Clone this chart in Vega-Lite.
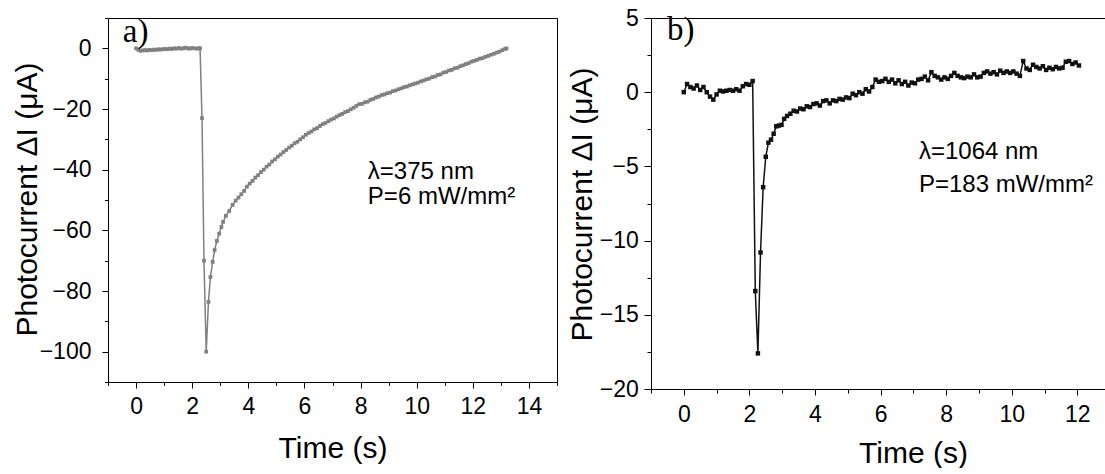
{
  "$schema": "https://vega.github.io/schema/vega-lite/v6.json",
  "background": "white",
  "padding": {"left": 11, "top": 6, "right": 0, "bottom": 0},
  "spacing": 94,
  "bounds": "flush",
  "config": {
    "view": {"stroke": "black", "strokeWidth": 1},
    "font": "Liberation Sans",
    "axis": {"grid": false, "tickColor": "black", "labelColor": "black", "titleColor": "black", "labelFont": "Liberation Sans", "titleFont": "Liberation Sans", "titleFontWeight": "normal", "labelOverlap": false, "labelFlush": false, "tickWidth": 1, "domainColor": "black"}
  },
  "datasets": {
    "a": [
      {"t":0,"v":0},{"t":0.08,"v":-0.5},{"t":0.16,"v":-0.8},{"t":0.24,"v":-0.7},{"t":0.32,"v":-0.6},{"t":0.40,"v":-0.7},{"t":0.48,"v":-0.5},{"t":0.56,"v":-0.6},{"t":0.64,"v":-0.4},{"t":0.72,"v":-0.5},{"t":0.80,"v":-0.3},{"t":0.88,"v":-0.4},{"t":0.96,"v":-0.3},{"t":1.04,"v":-0.2},{"t":1.12,"v":-0.3},{"t":1.20,"v":-0.1},{"t":1.28,"v":-0.2},{"t":1.36,"v":0.0},{"t":1.44,"v":-0.1},{"t":1.52,"v":0.1},{"t":1.60,"v":-0.1},{"t":1.68,"v":0.0},{"t":1.76,"v":0.2},{"t":1.84,"v":0.0},{"t":1.92,"v":-0.1},{"t":2.00,"v":0.1},{"t":2.08,"v":0.0},{"t":2.16,"v":-0.1},{"t":2.24,"v":0.0},{"t":2.28,"v":0.0},
      {"t":2.35,"v":-23},{"t":2.42,"v":-70},{"t":2.50,"v":-100},{"t":2.58,"v":-83.6},{"t":2.65,"v":-75.4},{"t":2.73,"v":-70.4},{"t":2.80,"v":-66.5},{"t":2.88,"v":-63.5},{"t":2.96,"v":-61.1},{"t":3.04,"v":-58.9},{"t":3.10,"v":-57.2},{"t":3.20,"v":-55.2},{"t":3.32,"v":-53.6},{"t":3.44,"v":-51.6},
      {"t":3.55,"v":-50.2},{"t":3.65,"v":-49.2},{"t":3.75,"v":-48.1},{"t":3.85,"v":-47.0},{"t":3.95,"v":-45.6},{"t":4.05,"v":-44.6},{"t":4.15,"v":-43.7},{"t":4.25,"v":-42.6},{"t":4.35,"v":-41.8},{"t":4.45,"v":-40.8},{"t":4.55,"v":-40.0},{"t":4.65,"v":-39.0},{"t":4.75,"v":-38.3},{"t":4.85,"v":-37.3},{"t":4.95,"v":-36.6},{"t":5.05,"v":-35.7},{"t":5.15,"v":-35.0},{"t":5.25,"v":-34.2},{"t":5.35,"v":-33.5},{"t":5.45,"v":-32.7},{"t":5.55,"v":-32.1},{"t":5.65,"v":-31.3},{"t":5.75,"v":-30.8},{"t":5.85,"v":-30.0},{"t":5.95,"v":-29.3},{"t":6.05,"v":-28.5},{"t":6.15,"v":-27.9},{"t":6.25,"v":-27.4},{"t":6.35,"v":-26.7},{"t":6.45,"v":-26.3},{"t":6.55,"v":-25.6},{"t":6.65,"v":-25.0},{"t":6.75,"v":-24.6},{"t":6.85,"v":-24.0},{"t":6.95,"v":-23.5},{"t":7.05,"v":-23.1},{"t":7.15,"v":-22.5},{"t":7.25,"v":-22.0},{"t":7.35,"v":-21.6},{"t":7.45,"v":-21.0},{"t":7.55,"v":-20.7},{"t":7.65,"v":-20.1},{"t":7.75,"v":-19.6},{"t":7.85,"v":-19.0},{"t":7.95,"v":-18.4},{"t":8.05,"v":-18.3},{"t":8.15,"v":-17.8},{"t":8.25,"v":-17.6},{"t":8.35,"v":-17.0},{"t":8.45,"v":-16.7},{"t":8.55,"v":-16.2},{"t":8.65,"v":-15.9},{"t":8.75,"v":-15.4},{"t":8.85,"v":-15.2},{"t":8.95,"v":-14.8},{"t":9.05,"v":-14.6},{"t":9.15,"v":-14.1},{"t":9.25,"v":-13.9},{"t":9.35,"v":-13.5},{"t":9.45,"v":-13.2},{"t":9.55,"v":-12.8},{"t":9.65,"v":-12.6},{"t":9.75,"v":-12.2},{"t":9.85,"v":-11.9},{"t":9.95,"v":-11.6},{"t":10.05,"v":-11.3},{"t":10.15,"v":-10.9},{"t":10.25,"v":-10.6},{"t":10.35,"v":-10.2},{"t":10.45,"v":-10.0},{"t":10.55,"v":-9.5},{"t":10.65,"v":-9.3},{"t":10.75,"v":-8.8},{"t":10.85,"v":-8.6},{"t":10.95,"v":-8.0},{"t":11.05,"v":-7.8},{"t":11.15,"v":-7.3},{"t":11.25,"v":-7.1},{"t":11.35,"v":-6.6},{"t":11.45,"v":-6.4},{"t":11.55,"v":-5.9},{"t":11.65,"v":-5.6},{"t":11.75,"v":-5.2},{"t":11.85,"v":-4.9},{"t":11.95,"v":-4.4},{"t":12.05,"v":-4.1},{"t":12.15,"v":-3.8},{"t":12.25,"v":-3.4},{"t":12.35,"v":-3.2},{"t":12.45,"v":-2.8},{"t":12.55,"v":-2.5},{"t":12.65,"v":-2.1},{"t":12.75,"v":-1.8},{"t":12.85,"v":-1.4},{"t":12.95,"v":-1.1},{"t":13.05,"v":-0.6},{"t":13.15,"v":-0.2},{"t":13.2,"v":0.0}
    ],
    "b": [
      {"t":0,"v":0},{"t":0.1,"v":0.55},{"t":0.2,"v":0.35},{"t":0.3,"v":0.25},{"t":0.4,"v":0.45},{"t":0.5,"v":0.15},{"t":0.6,"v":0.35},{"t":0.7,"v":0.0},{"t":0.8,"v":-0.3},{"t":0.9,"v":-0.5},{"t":1.0,"v":-0.15},{"t":1.1,"v":0.1},{"t":1.2,"v":0.05},{"t":1.3,"v":0.1},{"t":1.4,"v":0.15},{"t":1.5,"v":0.1},{"t":1.6,"v":0.2},{"t":1.7,"v":0.1},{"t":1.8,"v":0.4},{"t":1.9,"v":0.55},{"t":2.0,"v":0.5},{"t":2.1,"v":0.75},
      {"t":2.18,"v":-13.4},{"t":2.26,"v":-17.6},{"t":2.34,"v":-10.8},{"t":2.42,"v":-6.4},{"t":2.50,"v":-4.35},{"t":2.58,"v":-3.4},{"t":2.66,"v":-3.2},{"t":2.74,"v":-2.8},{"t":2.82,"v":-2.3},{"t":2.90,"v":-2.25},{"t":2.98,"v":-2.2},{"t":3.06,"v":-1.8},
      {"t":3.15,"v":-1.6},{"t":3.25,"v":-1.45},{"t":3.35,"v":-1.25},{"t":3.45,"v":-1.3},{"t":3.55,"v":-1.1},{"t":3.65,"v":-1.15},{"t":3.75,"v":-0.95},{"t":3.85,"v":-1.0},{"t":3.95,"v":-0.8},{"t":4.05,"v":-0.75},{"t":4.15,"v":-0.9},{"t":4.25,"v":-0.6},{"t":4.35,"v":-0.55},{"t":4.45,"v":-0.75},{"t":4.55,"v":-0.55},{"t":4.65,"v":-0.6},{"t":4.75,"v":-0.45},{"t":4.85,"v":-0.5},{"t":4.95,"v":-0.35},{"t":5.05,"v":-0.4},{"t":5.15,"v":-0.1},{"t":5.25,"v":-0.2},{"t":5.35,"v":0.0},{"t":5.45,"v":-0.1},{"t":5.55,"v":0.2},{"t":5.65,"v":0.05},{"t":5.75,"v":0.35},{"t":5.85,"v":0.85},{"t":5.95,"v":0.7},{"t":6.05,"v":0.75},{"t":6.15,"v":0.9},{"t":6.25,"v":0.7},{"t":6.35,"v":0.85},{"t":6.45,"v":0.6},{"t":6.55,"v":0.8},{"t":6.65,"v":0.55},{"t":6.75,"v":0.7},{"t":6.85,"v":0.45},{"t":6.95,"v":0.65},{"t":7.05,"v":0.6},{"t":7.15,"v":0.85},{"t":7.25,"v":0.9},{"t":7.35,"v":1.05},{"t":7.45,"v":0.8},{"t":7.55,"v":1.35},{"t":7.65,"v":1.1},{"t":7.75,"v":1.0},{"t":7.85,"v":0.85},{"t":7.95,"v":1.0},{"t":8.05,"v":0.9},{"t":8.15,"v":1.1},{"t":8.25,"v":1.3},{"t":8.35,"v":1.1},{"t":8.45,"v":1.0},{"t":8.55,"v":0.95},{"t":8.65,"v":1.05},{"t":8.75,"v":1.0},{"t":8.85,"v":1.2},{"t":8.95,"v":1.0},{"t":9.05,"v":1.05},{"t":9.15,"v":1.3},{"t":9.25,"v":1.4},{"t":9.35,"v":1.25},{"t":9.45,"v":1.35},{"t":9.55,"v":1.2},{"t":9.65,"v":1.45},{"t":9.75,"v":1.3},{"t":9.85,"v":1.4},{"t":9.95,"v":1.3},{"t":10.05,"v":1.4},{"t":10.15,"v":1.25},{"t":10.25,"v":1.1},{"t":10.35,"v":2.1},{"t":10.45,"v":1.6},{"t":10.55,"v":1.5},{"t":10.65,"v":1.85},{"t":10.75,"v":1.7},{"t":10.85,"v":1.6},{"t":10.95,"v":1.75},{"t":11.05,"v":1.5},{"t":11.15,"v":1.65},{"t":11.25,"v":1.55},{"t":11.35,"v":1.7},{"t":11.45,"v":1.6},{"t":11.55,"v":1.65},{"t":11.65,"v":2.05},{"t":11.75,"v":2.1},{"t":11.85,"v":1.9},{"t":11.95,"v":2.0},{"t":12.05,"v":1.8}
    ]
  },
  "hconcat": [
    {
      "width": 449,
      "height": 364,
      "resolve": {"axis": {"x": "independent", "y": "independent"}},
      "layer": [
        {
          "data": {"name": "a"},
          "mark": {"type": "line", "color": "#808080", "strokeWidth": 1.5, "clip": true, "point": {"shape": "square", "size": 14, "filled": true, "color": "#808080"}},
          "encoding": {
            "x": {"field": "t", "type": "quantitative", "scale": {"domain": [-1, 15], "nice": false, "zero": false},
              "axis": {"values": [-1,0,1,2,3,4,5,6,7,8,9,10,11,12,13,14,15], "format": "d", "domain": false,
                "tickSize": {"condition": {"test": "datum.value % 2 === 0", "value": 6}, "value": 3.5},
                "labelExpr": "(datum.value % 2 === 0 && datum.value >= 0 && datum.value <= 14) ? datum.label : ''",
                "labelFontSize": 23, "labelPadding": 7,
                "title": "Time (s)", "titleFontSize": 30, "titleX": 224.5, "titleY": 75, "titleBaseline": "alphabetic", "titleAlign": "center"}},
            "y": {"field": "v", "type": "quantitative", "scale": {"domain": [-110, 10], "nice": false, "zero": false},
              "axis": {"values": [-110,-100,-90,-80,-70,-60,-50,-40,-30,-20,-10,0,10], "format": "d", "domain": false,
                "tickSize": {"condition": {"test": "datum.value % 20 === 0", "value": 6}, "value": 3.5},
                "labelExpr": "(datum.value % 20 === 0 && datum.value >= -100 && datum.value <= 0) ? datum.label : ''",
                "labelFontSize": 23, "labelPadding": 11,
                "title": "Photocurrent ΔI (μA)", "titleFontSize": 30, "titleAngle": 270, "titleX": -72, "titleY": 181, "titleBaseline": "alphabetic", "titleAlign": "center"}}
          }
        },
        {
          "data": {"values": [{}]},
          "mark": {"type": "text", "text": "a)", "font": "Liberation Serif", "fontSize": 33, "align": "left", "baseline": "alphabetic", "color": "black"},
          "encoding": {"x": {"datum": -0.47, "type": "quantitative", "axis": null}, "y": {"datum": 2.0, "type": "quantitative", "axis": null}}
        },
        {
          "data": {"values": [{}]},
          "mark": {"type": "text", "text": "λ=375 nm", "font": "Liberation Sans", "fontSize": 24, "align": "left", "baseline": "alphabetic", "color": "black"},
          "encoding": {"x": {"datum": 8.26, "type": "quantitative", "axis": null}, "y": {"datum": -43.0, "type": "quantitative", "axis": null}}
        },
        {
          "data": {"values": [{}]},
          "mark": {"type": "text", "text": "P=6 mW/mm²", "font": "Liberation Sans", "fontSize": 24, "align": "left", "baseline": "alphabetic", "color": "black"},
          "encoding": {"x": {"datum": 8.26, "type": "quantitative", "axis": null}, "y": {"datum": -51.4, "type": "quantitative", "axis": null}}
        }
      ]
    },
    {
      "width": 455,
      "height": 371,
      "view": {"stroke": null},
      "resolve": {"axis": {"x": "independent", "y": "independent"}},
      "layer": [
        {
          "data": {"name": "b"},
          "mark": {"type": "line", "color": "#111111", "strokeWidth": 1.5, "clip": true, "point": {"shape": "square", "size": 20, "filled": true, "color": "#111111"}},
          "encoding": {
            "x": {"field": "t", "type": "quantitative", "scale": {"domain": [-1, 12.875], "nice": false, "zero": false},
              "axis": {"values": [-1,0,1,2,3,4,5,6,7,8,9,10,11,12], "format": "d", "domain": true,
                "tickSize": {"condition": {"test": "datum.value % 2 === 0", "value": 6}, "value": 4},
                "labelExpr": "(datum.value % 2 === 0 && datum.value >= 0) ? datum.label : ''",
                "labelFontSize": 23, "labelPadding": 8.5,
                "title": "Time (s)", "titleFontSize": 30, "titleX": 262, "titleY": 73, "titleBaseline": "alphabetic", "titleAlign": "center"}},
            "y": {"field": "v", "type": "quantitative", "scale": {"domain": [-20, 5], "nice": false, "zero": false},
              "axis": {"values": [-20,-17.5,-15,-12.5,-10,-7.5,-5,-2.5,0,2.5,5], "format": "d", "domain": true,
                "tickSize": {"condition": {"test": "datum.value % 5 === 0", "value": 7}, "value": 4},
                "labelExpr": "(datum.value % 5 === 0) ? datum.label : ''",
                "labelFontSize": 23, "labelPadding": 5.7,
                "title": "Photocurrent ΔI (μA)", "titleFontSize": 30, "titleAngle": 270, "titleX": -59.5, "titleY": 186, "titleBaseline": "alphabetic", "titleAlign": "center"}}
          }
        },
        {
          "data": {"values": [{}]},
          "mark": {"type": "text", "text": "b)", "font": "Liberation Serif", "fontSize": 33, "align": "left", "baseline": "alphabetic", "color": "black"},
          "encoding": {
            "x": {"datum": -0.51, "type": "quantitative", "axis": {"orient": "top", "domain": true, "ticks": false, "labels": false, "title": null}},
            "y": {"datum": 3.5, "type": "quantitative", "axis": null}}
        },
        {
          "data": {"values": [{}]},
          "mark": {"type": "text", "text": "λ=1064 nm", "font": "Liberation Sans", "fontSize": 24, "align": "left", "baseline": "alphabetic", "color": "black"},
          "encoding": {"x": {"datum": 7.17, "type": "quantitative", "axis": null}, "y": {"datum": -4.5, "type": "quantitative", "axis": null}}
        },
        {
          "data": {"values": [{}]},
          "mark": {"type": "text", "text": "P=183 mW/mm²", "font": "Liberation Sans", "fontSize": 24, "align": "left", "baseline": "alphabetic", "color": "black"},
          "encoding": {"x": {"datum": 7.17, "type": "quantitative", "axis": null}, "y": {"datum": -6.74, "type": "quantitative", "axis": null}}
        }
      ]
    }
  ]
}
